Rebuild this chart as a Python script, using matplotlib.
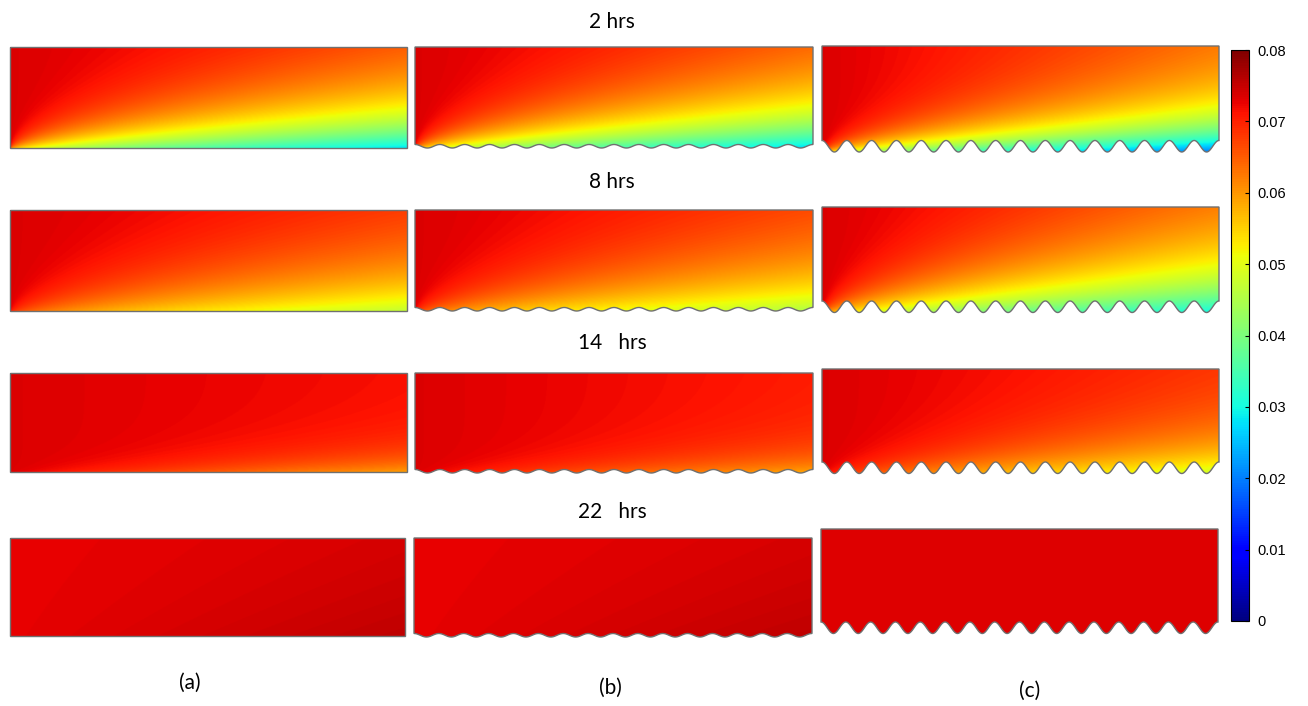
import numpy as np
import matplotlib
matplotlib.use('Agg')
import matplotlib.pyplot as plt
from matplotlib.patches import Polygon, Rectangle
from matplotlib.cm import ScalarMappable
from matplotlib.colors import Normalize

# --- data ---
times = ['2 hrs', '8 hrs', '14   hrs', '22   hrs']
cases = ['(a)', '(b)', '(c)']
# inlet concentration (top-left corner) per time, per case
c_inlet = [[0.0735, 0.0735, 0.0735],
           [0.0735, 0.0735, 0.0735],
           [0.0735, 0.0735, 0.0735],
           [0.0727, 0.0727, 0.0733]]
# drop of the bulk value along the channel (top-left -> top-right)
c_drop = [[0.003, 0.004, 0.008],
          [0.002, 0.003, 0.005],
          [0.002, 0.003, 0.004],
          [0.0, 0.0, 0.0]]
# concentration at the outlet wall (bottom-right corner)
c_wall_out = [[0.028, 0.027, 0.0195],
              [0.047, 0.045, 0.030],
              [0.0595, 0.0585, 0.048],
              [0.0755, 0.0755, 0.0733]]
# thickness of the depleted layer at the outlet (panel heights)
layer = [[0.50, 0.52, 0.42],
         [0.55, 0.57, 0.63],
         [0.21, 0.23, 0.41],
         [1.20, 1.20, 1.20]]
# growth of the wall depletion along the channel
wall_exp = [[0.23, 0.23, 0.23],
            [0.35, 0.30, 0.25],
            [0.80, 0.70, 0.50],
            [1.00, 1.00, 1.00]]
n_waves = [0, 16, 16]
cb_ticks = [0, 0.01, 0.02, 0.03, 0.04, 0.05, 0.06, 0.07, 0.08]
cb_labels = ['0', '0.01', '0.02', '0.03', '0.04', '0.05', '0.06', '0.07', '0.08']

# --- layout (pixels) ---
W, H = 1308, 706
# x0, x1, top, base line of each panel
boxes = [[(10, 407, 47, 148), (415, 813, 47, 144.5), (822, 1219, 46, 140.5)],
         [(10, 407, 210, 311), (415, 813, 210, 307.5), (822, 1219, 207, 301)],
         [(10, 407, 373, 472), (415, 813, 373, 469.5), (822, 1219, 369, 462)],
         [(10, 405, 538, 636), (414, 812, 538, 633.5), (821, 1218, 529, 622)]]
wave_px = [0.0, 3.5, 11.5]
title_pos = [(612, 22), (612, 182), (612, 343), (612, 512)]
label_pos = [(190, 683), (610, 688), (1030, 691)]

fig = plt.figure(figsize=(W / 100, H / 100), dpi=100)
ax = fig.add_axes([0, 0, 1, 1])

for i in range(len(times)):
    for j in range(len(cases)):
        x0, x1, yt, yb = boxes[i][j]
        amp = wave_px[j]
        ylow = yb + amp
        xs = np.linspace(x0, x1, int((x1 - x0) * 1.5))
        ys = np.linspace(yt, ylow, int((ylow - yt) * 1.5))
        XX, YY = np.meshgrid(xs, ys)
        Xn = (XX - x0) / (x1 - x0)
        Yn = (ylow - YY) / (yb - yt)
        cin, B = c_inlet[i][j], c_drop[i][j]
        D = cin - B - c_wall_out[i][j]
        delta = layer[i][j] * np.sqrt(Xn + 1e-4)
        c = cin - B * Xn - D * Xn ** wall_exp[i][j] * np.exp(-Yn / delta)
        im = ax.imshow(c, extent=(x0, x1, ylow, yt), origin='upper', cmap='jet',
                       vmin=0, vmax=0.08, interpolation='bilinear')
        xw = np.linspace(x0, x1, 800)
        if n_waves[j]:
            yw = yb + amp * (1 - np.cos(2 * np.pi * n_waves[j] * (xw - x0) / (x1 - x0))) / 2
        else:
            yw = np.full_like(xw, yb)
        verts = [(x0, yt), (x1, yt)] + list(zip(xw[::-1], yw[::-1]))
        patch = Polygon(verts, closed=True, fc='none', ec='#707070', lw=1.0)
        ax.add_patch(patch)
        im.set_clip_path(patch)

for k, (t, (x, y)) in enumerate(zip(times, title_pos)):
    txt = ax.text(x, y, t, ha='center', va='center', fontsize=15, family='Lato')
    if k == 1:
        # the second title is cut off at the bottom in the original figure
        txt.set_clip_path(Rectangle((0, 0), W, 188, transform=ax.transData))
for lab, (x, y) in zip(cases, label_pos):
    ax.text(x, y, lab, ha='center', va='center', fontsize=15, family='Lato')

ax.set_aspect('auto')
ax.set_xlim(0, W)
ax.set_ylim(H, 0)
ax.axis('off')

cax = fig.add_axes([1231 / W, (H - 621) / H, 18 / W, 571 / H])
sm = ScalarMappable(norm=Normalize(0, 0.08), cmap='jet')
cb = fig.colorbar(sm, cax=cax, ticks=cb_ticks)
cb.ax.set_yticklabels(cb_labels, family='Liberation Sans', fontsize=10.5)
cb.ax.tick_params(direction='in', length=3, width=0.8, pad=6)
cb.outline.set_linewidth(0.8)

fig.savefig('out.png', dpi=100)
